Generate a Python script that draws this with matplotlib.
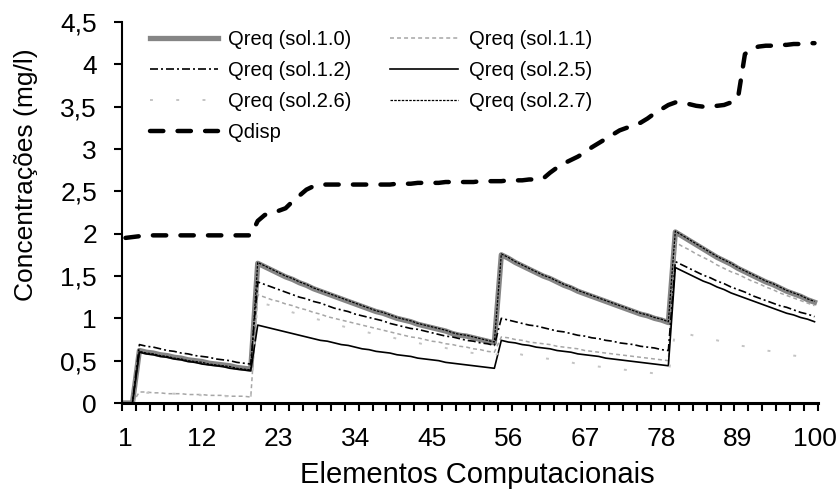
import numpy as np
from matplotlib import pyplot as plt

# elementos computacionais 1..100
elementos = list(range(1, 101))
xtick_pos = [1, 12, 23, 34, 45, 56, 67, 78, 89, 100]
ytick_pos = [0, 0.5, 1, 1.5, 2, 2.5, 3, 3.5, 4, 4.5]
ytick_lab = ["0", "0,5", "1", "1,5", "2", "2,5", "3", "3,5", "4", "4,5"]

# valores (mg/l)
qreq_10 = [0, 0,
           0.62, 0.60, 0.59, 0.57, 0.56, 0.54, 0.53, 0.51, 0.50, 0.49, 0.47, 0.46, 0.45, 0.44, 0.42, 0.41, 0.40,
           1.65, 1.61, 1.57, 1.53, 1.49, 1.46, 1.42, 1.39, 1.35, 1.32, 1.29, 1.26, 1.23, 1.20, 1.17, 1.14, 1.11,
           1.08, 1.06, 1.03, 1.00, 0.98, 0.96, 0.93, 0.91, 0.89, 0.87, 0.85, 0.82, 0.80, 0.79, 0.77, 0.75, 0.73, 0.71,
           1.75, 1.71, 1.66, 1.62, 1.58, 1.54, 1.50, 1.47, 1.43, 1.39, 1.36, 1.32, 1.29, 1.26, 1.23, 1.20, 1.17,
           1.14, 1.11, 1.08, 1.05, 1.03, 1.00, 0.98, 0.95,
           2.02, 1.97, 1.92, 1.87, 1.82, 1.77, 1.72, 1.68, 1.64, 1.59, 1.55, 1.51, 1.47, 1.43, 1.40, 1.36, 1.32,
           1.29, 1.26, 1.22, 1.19]
qreq_11 = [0, 0,
           0.13, 0.13, 0.12, 0.12, 0.11, 0.11, 0.11, 0.10, 0.10, 0.10, 0.09, 0.09, 0.09, 0.08, 0.08, 0.08, 0.07,
           1.28, 1.25, 1.22, 1.20, 1.17, 1.15, 1.12, 1.10, 1.07, 1.05, 1.02, 1.00, 0.98, 0.96, 0.94, 0.92, 0.90,
           0.88, 0.86, 0.84, 0.82, 0.80, 0.78, 0.77, 0.75, 0.73, 0.72, 0.70, 0.69, 0.67, 0.66, 0.64, 0.63, 0.61, 0.60,
           0.78, 0.77, 0.75, 0.74, 0.72, 0.71, 0.70, 0.69, 0.67, 0.66, 0.65, 0.64, 0.62, 0.61, 0.60, 0.59, 0.58,
           0.57, 0.56, 0.55, 0.54, 0.53, 0.52, 0.51, 0.50,
           1.90, 1.85, 1.81, 1.76, 1.72, 1.68, 1.63, 1.59, 1.55, 1.52, 1.48, 1.44, 1.41, 1.37, 1.34, 1.30, 1.27,
           1.24, 1.21, 1.18, 1.15]
qreq_12 = [0, 0,
           0.69, 0.67, 0.66, 0.64, 0.62, 0.61, 0.59, 0.58, 0.56, 0.55, 0.54, 0.52, 0.51, 0.50, 0.48, 0.47, 0.46,
           1.43, 1.40, 1.37, 1.34, 1.31, 1.28, 1.25, 1.23, 1.20, 1.18, 1.15, 1.12, 1.10, 1.08, 1.05, 1.03, 1.01,
           0.99, 0.97, 0.94, 0.92, 0.90, 0.88, 0.87, 0.85, 0.83, 0.81, 0.79, 0.78, 0.76, 0.74, 0.73, 0.71, 0.70, 0.68,
           1.00, 0.98, 0.96, 0.94, 0.92, 0.91, 0.89, 0.87, 0.85, 0.84, 0.82, 0.80, 0.79, 0.77, 0.76, 0.74, 0.73,
           0.71, 0.70, 0.69, 0.67, 0.66, 0.65, 0.63, 0.62,
           1.67, 1.63, 1.59, 1.55, 1.51, 1.48, 1.44, 1.41, 1.37, 1.34, 1.31, 1.27, 1.24, 1.21, 1.18, 1.15, 1.13,
           1.10, 1.07, 1.05, 1.02]
qreq_25 = [0, 0,
           0.60, 0.58, 0.57, 0.55, 0.54, 0.52, 0.51, 0.49, 0.48, 0.46, 0.45, 0.44, 0.43, 0.41, 0.40, 0.39, 0.38,
           0.92, 0.90, 0.88, 0.86, 0.84, 0.82, 0.80, 0.78, 0.76, 0.74, 0.73, 0.71, 0.69, 0.68, 0.66, 0.64, 0.63,
           0.61, 0.60, 0.59, 0.57, 0.56, 0.55, 0.53, 0.52, 0.51, 0.50, 0.48, 0.47, 0.46, 0.45, 0.44, 0.43, 0.42, 0.41,
           0.74, 0.72, 0.71, 0.69, 0.68, 0.66, 0.65, 0.64, 0.62, 0.61, 0.60, 0.58, 0.57, 0.56, 0.55, 0.53, 0.52,
           0.51, 0.50, 0.49, 0.48, 0.47, 0.46, 0.45, 0.44,
           1.60, 1.56, 1.52, 1.48, 1.44, 1.41, 1.37, 1.34, 1.30, 1.27, 1.24, 1.21, 1.18, 1.15, 1.12, 1.09, 1.06,
           1.04, 1.01, 0.99, 0.96]
qreq_26 = [0, 0,
           0.12, 0.12, 0.12, 0.11, 0.11, 0.11, 0.10, 0.10, 0.10, 0.09, 0.09, 0.09, 0.08, 0.08, 0.08, 0.07, 0.07,
           1.20, 1.17, 1.15, 1.12, 1.10, 1.07, 1.05, 1.02, 1.00, 0.98, 0.95, 0.93, 0.91, 0.89, 0.87, 0.85, 0.83,
           0.81, 0.79, 0.78, 0.76, 0.74, 0.72, 0.71, 0.69, 0.68, 0.66, 0.65, 0.63, 0.62, 0.60, 0.59, 0.58, 0.56, 0.55,
           0.62, 0.60, 0.59, 0.57, 0.56, 0.54, 0.53, 0.52, 0.50, 0.49, 0.48, 0.46, 0.45, 0.44, 0.43, 0.42, 0.41,
           0.40, 0.39, 0.38, 0.37, 0.36, 0.35, 0.34, 0.33,
           0.85, 0.83, 0.81, 0.79, 0.77, 0.75, 0.74, 0.72, 0.70, 0.68, 0.67, 0.65, 0.64, 0.62, 0.61, 0.59, 0.58,
           0.56, 0.55, 0.54, 0.53]
qreq_27 = [0, 0,
           0.61, 0.59, 0.58, 0.56, 0.55, 0.53, 0.52, 0.50, 0.49, 0.48, 0.46, 0.45, 0.44, 0.43, 0.41, 0.40, 0.39,
           1.66, 1.62, 1.58, 1.54, 1.50, 1.47, 1.43, 1.40, 1.36, 1.33, 1.30, 1.27, 1.24, 1.21, 1.18, 1.15, 1.12,
           1.09, 1.07, 1.04, 1.01, 0.99, 0.97, 0.94, 0.92, 0.90, 0.88, 0.86, 0.83, 0.81, 0.80, 0.78, 0.76, 0.74, 0.72,
           1.76, 1.72, 1.67, 1.63, 1.59, 1.55, 1.51, 1.48, 1.44, 1.40, 1.37, 1.33, 1.30, 1.27, 1.24, 1.21, 1.18,
           1.15, 1.12, 1.09, 1.06, 1.04, 1.01, 0.99, 0.96,
           2.03, 1.98, 1.93, 1.88, 1.83, 1.78, 1.73, 1.69, 1.65, 1.60, 1.56, 1.52, 1.48, 1.44, 1.41, 1.37, 1.33,
           1.30, 1.27, 1.23, 1.20]
qdisp = [1.95, 1.96, 1.97,
         1.98, 1.98, 1.98, 1.98, 1.98, 1.98, 1.98, 1.98, 1.98, 1.98, 1.98, 1.98, 1.98, 1.98, 1.98, 1.98,
         2.15, 2.22, 2.25, 2.27, 2.30, 2.38, 2.45, 2.52, 2.56, 2.58,
         2.58, 2.58, 2.58, 2.58, 2.58, 2.58, 2.58, 2.58,
         2.58, 2.58, 2.59, 2.59, 2.59, 2.60, 2.60, 2.60, 2.60, 2.61, 2.61, 2.61, 2.61, 2.61, 2.62, 2.62,
         2.62, 2.62, 2.63, 2.63, 2.63, 2.64, 2.64,
         2.65, 2.72, 2.78, 2.83, 2.87, 2.91, 2.96, 3.02, 3.07, 3.12, 3.17, 3.22, 3.25, 3.28, 3.31, 3.36,
         3.42, 3.47, 3.52, 3.55, 3.55, 3.53, 3.51, 3.50, 3.51, 3.51, 3.52, 3.55,
         3.60, 4.12, 4.19, 4.21, 4.22, 4.22, 4.23, 4.23, 4.24, 4.24, 4.25, 4.25]

plt.rcParams["font.family"] = ["Liberation Sans", "DejaVu Sans"]

fig = plt.figure(figsize=(8.36, 4.94), dpi=100)
ax = fig.add_axes([122 / 836, 1 - 403 / 494, 696 / 836, 381 / 494])

x = np.array(elementos)
l10, = ax.plot(x, qreq_10, color="#858585", lw=3.8, solid_joinstyle="round", label="Qreq (sol.1.0)")
l11, = ax.plot(x, qreq_11, color="#a6a6a6", lw=1.1, dashes=(2.6, 2.0), label="Qreq (sol.1.1)")
l12, = ax.plot(x, qreq_12, color="black", lw=1.2, dashes=(4.8, 1.8, 1.2, 1.8), label="Qreq (sol.1.2)")
l25, = ax.plot(x, qreq_25, color="black", lw=1.2, label="Qreq (sol.2.5)")
l26, = ax.plot(x, qreq_26, color="#c4c4c4", lw=1.4, dashes=(1.5, 12), label="Qreq (sol.2.6)")
l27, = ax.plot(x, qreq_27, color="black", lw=0.9, dashes=(2, 1), label="Qreq (sol.2.7)")
ld, = ax.plot(x, qdisp, color="black", lw=3.2, dashes=(3, 3.2), dash_capstyle="round", label="Qdisp")

ax.set_xlim(0.5, 100.5)
ax.set_ylim(0, 4.5)

for s in ["top", "right"]:
    ax.spines[s].set_visible(False)
ax.spines["left"].set_linewidth(1.5)
ax.spines["bottom"].set_linewidth(2.2)

# rotulos sem marcas, marcas a cada 2 elementos
ax.set_xticks(xtick_pos)
ax.set_xticklabels([str(v) for v in xtick_pos], fontsize=19)
ax.set_xticks(np.arange(0.5, 101, 2), minor=True)
ax.tick_params(axis="x", which="major", length=0, pad=17)
ax.tick_params(axis="x", which="minor", length=6, width=1.5, direction="out")

ax.set_yticks(ytick_pos)
ax.set_yticklabels(ytick_lab, fontsize=19)
ax.tick_params(axis="y", length=6, width=1.5, direction="out", pad=12)

ax.set_xlabel("Elementos Computacionais", fontsize=21)
ax.xaxis.set_label_coords(0.511, -0.152)
ax.set_ylabel("Concentrações (mg/l)", fontsize=19)
ax.yaxis.set_label_coords(-0.12, 0.6)

handles = [l10, l12, l26, ld, l11, l25, l27]
ax.legend(handles=handles, labels=[h.get_label() for h in handles], ncol=2,
          loc="upper left", bbox_to_anchor=(0.04, 0.98), frameon=False, fontsize=14.5,
          handlelength=3.4, handletextpad=0.5, columnspacing=1.9, labelspacing=0.6,
          borderpad=0, borderaxespad=0)

fig.savefig("out.png", dpi=100)
